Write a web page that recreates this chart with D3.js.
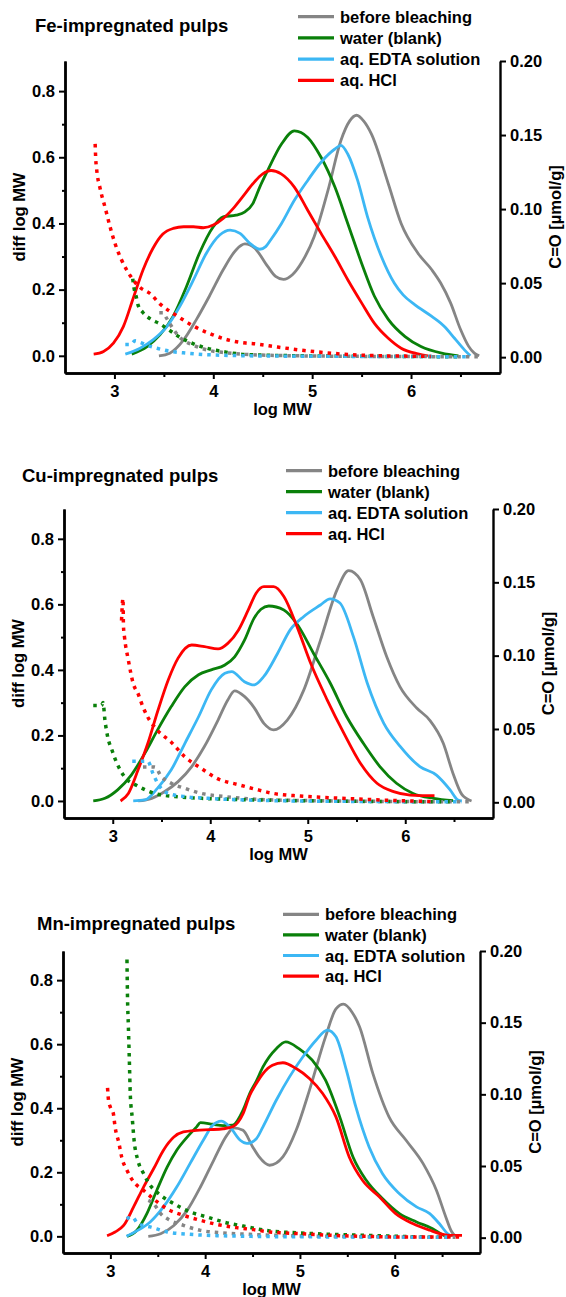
<!DOCTYPE html>
<html>
<head>
<meta charset="utf-8">
<script src="https://cdn.jsdelivr.net/npm/d3@7"></script>
<style>
  body { margin: 0; background: #fff; }
  svg text { font-family: "Liberation Sans", Arial, sans-serif; font-weight: bold; fill: #000; }
</style>
</head>
<body>
<script>
/* GPC of impregnated pulps: diff log MW (solid, left) and C=O (dotted, right) */

const seriesNames = ['before bleaching', 'water (blank)', 'aq. EDTA solution', 'aq. HCl'];
const panelTitles = ['Fe-impregnated pulps', 'Cu-impregnated pulps', 'Mn-impregnated pulps'];
const xTicks = [3, 4, 5, 6];
const xMinorTicks = [3.5, 4.5, 5.5, 6.5];
const leftTicks = [0, 0.2, 0.4, 0.6, 0.8];
const leftMinorTicks = [0.1, 0.3, 0.5, 0.7];
const rightTicks = [0, 0.05, 0.1, 0.15, 0.2];

// ---- Fe ----
const feBefore = [[3.45,0],[3.56,0.008],[3.70,0.048],[3.83,0.11],[3.96,0.18],[4.10,0.26],[4.23,0.32],[4.32,0.338],[4.42,0.325],[4.55,0.27],[4.63,0.24],[4.71,0.231],[4.80,0.245],[4.90,0.285],[5.02,0.36],[5.16,0.50],[5.29,0.65],[5.38,0.71],[5.45,0.727],[5.52,0.71],[5.60,0.67],[5.77,0.52],[5.90,0.40],[6.07,0.31],[6.21,0.26],[6.30,0.22],[6.40,0.16],[6.50,0.08],[6.58,0.03],[6.64,0.008],[6.69,0]];
const feWater = [[3.175,0.005],[3.33,0.028],[3.46,0.063],[3.595,0.12],[3.73,0.21],[3.86,0.31],[4.0,0.39],[4.10,0.42],[4.23,0.425],[4.32,0.435],[4.40,0.46],[4.47,0.51],[4.55,0.56],[4.69,0.64],[4.82,0.68],[4.955,0.66],[5.09,0.60],[5.23,0.51],[5.36,0.40],[5.50,0.28],[5.63,0.18],[5.77,0.11],[5.94,0.058],[6.10,0.028],[6.31,0.008],[6.48,0]];
const feEdta = [[3.11,0.005],[3.26,0.023],[3.39,0.048],[3.53,0.088],[3.66,0.149],[3.80,0.23],[3.93,0.31],[4.065,0.365],[4.17,0.38],[4.27,0.37],[4.37,0.34],[4.47,0.322],[4.53,0.33],[4.58,0.35],[4.69,0.40],[4.82,0.47],[4.955,0.53],[5.09,0.585],[5.23,0.625],[5.29,0.636],[5.36,0.61],[5.46,0.53],[5.56,0.42],[5.70,0.30],[5.83,0.22],[5.92,0.184],[6.04,0.154],[6.21,0.119],[6.34,0.088],[6.44,0.053],[6.54,0.018],[6.60,0]];
const feHcl = [[2.79,0.005],[2.89,0.013],[2.99,0.038],[3.09,0.088],[3.19,0.174],[3.29,0.26],[3.39,0.325],[3.49,0.368],[3.595,0.385],[3.70,0.39],[3.80,0.39],[3.90,0.387],[4.0,0.395],[4.10,0.415],[4.20,0.445],[4.30,0.482],[4.40,0.52],[4.50,0.55],[4.585,0.56],[4.686,0.55],[4.82,0.51],[4.955,0.44],[5.09,0.37],[5.23,0.30],[5.36,0.23],[5.50,0.16],[5.63,0.098],[5.77,0.053],[5.90,0.023],[6.07,0.006],[6.17,0]];
const feBeforeCO = [[3.454,0.030],[3.49,0.030],[3.53,0.026],[3.595,0.019],[3.66,0.0135],[3.80,0.008],[3.96,0.0045],[4.13,0.003],[4.40,0.0016],[5.0,0.0008],[6.0,0.0004],[6.69,0.0003]];
const feWaterCO = [[3.185,0.053],[3.20,0.046],[3.22,0.041],[3.24,0.035],[3.29,0.030],[3.36,0.026],[3.46,0.0225],[3.56,0.018],[3.66,0.0135],[3.80,0.009],[3.96,0.0056],[4.13,0.0034],[4.33,0.0018],[4.8,0.001],[5.5,0.0006],[6.48,0.0003]];
const feEdtaCO = [[3.11,0.0085],[3.16,0.0085],[3.21,0.011],[3.26,0.010],[3.33,0.008],[3.43,0.006],[3.56,0.004],[3.73,0.0027],[3.96,0.0016],[4.5,0.0008],[5.5,0.0005],[6.6,0.0003]];
const feHclCO = [[2.805,0.144],[2.81,0.135],[2.82,0.127],[2.855,0.114],[2.906,0.101],[2.956,0.088],[3.007,0.0766],[3.07,0.066],[3.16,0.055],[3.26,0.047],[3.36,0.043],[3.46,0.036],[3.63,0.028],[3.80,0.021],[3.96,0.016],[4.13,0.012],[4.33,0.0095],[4.42,0.009],[4.65,0.0068],[4.92,0.0045],[5.26,0.0023],[5.60,0.0011],[5.94,0.0007],[6.2,0.0005]];

// ---- Cu ----
const cuBefore = [[3.26,0],[3.40,0.008],[3.53,0.028],[3.67,0.059],[3.81,0.105],[3.94,0.166],[4.08,0.247],[4.18,0.308],[4.25,0.336],[4.35,0.319],[4.45,0.285],[4.55,0.237],[4.65,0.217],[4.79,0.247],[4.96,0.339],[5.13,0.49],[5.30,0.644],[5.42,0.703],[5.54,0.675],[5.67,0.563],[5.81,0.44],[5.945,0.349],[6.12,0.283],[6.25,0.247],[6.39,0.176],[6.49,0.084],[6.58,0.02],[6.68,0]];
const cuWater = [[2.80,0],[2.92,0.008],[3.05,0.034],[3.19,0.079],[3.33,0.146],[3.46,0.217],[3.60,0.288],[3.74,0.349],[3.88,0.385],[4.01,0.40],[4.15,0.415],[4.25,0.44],[4.35,0.49],[4.45,0.558],[4.52,0.585],[4.60,0.595],[4.755,0.583],[4.89,0.54],[5.06,0.45],[5.23,0.36],[5.40,0.257],[5.57,0.176],[5.74,0.105],[5.91,0.054],[6.08,0.023],[6.29,0.008],[6.49,0.001]];
const cuEdta = [[3.21,0],[3.33,0.003],[3.46,0.039],[3.60,0.095],[3.74,0.176],[3.88,0.257],[4.01,0.339],[4.15,0.39],[4.22,0.395],[4.35,0.364],[4.45,0.354],[4.55,0.38],[4.69,0.45],[4.82,0.522],[4.96,0.563],[5.13,0.598],[5.23,0.617],[5.33,0.604],[5.47,0.50],[5.61,0.36],[5.78,0.237],[5.95,0.166],[6.15,0.105],[6.32,0.079],[6.46,0.034],[6.54,0.003],[6.58,0]];
const cuHcl = [[3.08,0],[3.16,0.023],[3.26,0.095],[3.36,0.176],[3.46,0.273],[3.57,0.37],[3.67,0.436],[3.81,0.476],[3.94,0.471],[4.08,0.464],[4.18,0.481],[4.29,0.522],[4.39,0.583],[4.47,0.634],[4.55,0.654],[4.65,0.654],[4.755,0.624],[4.89,0.532],[5.03,0.42],[5.20,0.308],[5.37,0.207],[5.54,0.115],[5.71,0.054],[5.88,0.0285],[6.05,0.018],[6.25,0.016],[6.30,0.016]];
const cuBeforeCO = [[3.31,0.024],[3.43,0.024],[3.50,0.0175],[3.60,0.013],[3.74,0.0095],[3.91,0.006],[4.15,0.0039],[4.49,0.002],[5.2,0.001],[6.68,0.0003]];
const cuWaterCO = [[2.80,0.066],[2.885,0.066],[2.90,0.068],[2.92,0.056],[2.95,0.044],[2.99,0.036],[3.04,0.027],[3.12,0.0175],[3.26,0.011],[3.43,0.006],[3.64,0.0039],[3.98,0.0025],[4.49,0.0016],[5.3,0.0008],[6.5,0.0003]];
const cuEdtaCO = [[3.20,0.028],[3.29,0.028],[3.36,0.028],[3.41,0.020],[3.46,0.013],[3.57,0.006],[3.74,0.0039],[3.98,0.0027],[4.6,0.0012],[5.5,0.0006],[6.58,0.0003]];
const cuHclCO = [[3.09,0.124],[3.105,0.139],[3.11,0.12],[3.12,0.113],[3.16,0.097],[3.21,0.081],[3.26,0.074],[3.31,0.065],[3.36,0.058],[3.46,0.049],[3.60,0.041],[3.74,0.031],[3.91,0.023],[4.08,0.016],[4.29,0.012],[4.46,0.009],[4.65,0.006],[4.92,0.0043],[5.27,0.003],[5.6,0.002],[5.95,0.0011],[6.29,0.0005]];

// ---- Mn ----
const mnBefore = [[3.40,0],[3.53,0.008],[3.67,0.034],[3.81,0.081],[3.95,0.154],[4.09,0.2375],[4.23,0.316],[4.30,0.339],[4.40,0.331],[4.50,0.28],[4.57,0.248],[4.68,0.222],[4.82,0.248],[4.96,0.331],[5.10,0.456],[5.27,0.623],[5.38,0.71],[5.46,0.725],[5.55,0.70],[5.63,0.654],[5.77,0.508],[5.94,0.373],[6.12,0.30],[6.30,0.227],[6.44,0.144],[6.54,0.06],[6.60,0.015],[6.64,0]];
const mnWater = [[3.175,0],[3.28,0.019],[3.385,0.071],[3.49,0.144],[3.60,0.217],[3.70,0.269],[3.81,0.31],[3.91,0.342],[3.95,0.355],[4.08,0.35],[4.19,0.346],[4.29,0.347],[4.40,0.394],[4.47,0.446],[4.54,0.485],[4.61,0.529],[4.75,0.586],[4.85,0.607],[4.99,0.586],[5.13,0.55],[5.27,0.4875],[5.42,0.373],[5.56,0.248],[5.70,0.175],[5.87,0.118],[6.05,0.071],[6.23,0.045],[6.40,0.024],[6.52,0.003],[6.55,0]];
const mnEdta = [[3.17,0],[3.28,0.017],[3.42,0.045],[3.56,0.092],[3.70,0.154],[3.84,0.227],[3.98,0.30],[4.08,0.347],[4.17,0.36],[4.26,0.342],[4.37,0.30],[4.44,0.29],[4.54,0.305],[4.61,0.342],[4.75,0.425],[4.89,0.498],[5.03,0.56],[5.17,0.6125],[5.29,0.644],[5.38,0.623],[5.49,0.519],[5.59,0.404],[5.73,0.279],[5.87,0.196],[6.05,0.133],[6.23,0.092],[6.37,0.071],[6.47,0.04],[6.56,0.008],[6.60,0]];
const mnHcl = [[2.965,0.002],[3.05,0.0135],[3.14,0.034],[3.245,0.092],[3.35,0.154],[3.456,0.211],[3.56,0.269],[3.67,0.31],[3.77,0.326],[3.91,0.331],[4.05,0.333],[4.19,0.336],[4.29,0.342],[4.40,0.383],[4.47,0.44],[4.54,0.477],[4.61,0.508],[4.71,0.534],[4.82,0.542],[4.96,0.524],[5.10,0.493],[5.24,0.446],[5.38,0.373],[5.52,0.248],[5.66,0.175],[5.84,0.123],[6.01,0.071],[6.19,0.04],[6.37,0.019],[6.51,0.006],[6.58,0.003],[6.71,0.003]];
const mnBeforeCO = [[3.40,0.026],[3.456,0.0237],[3.53,0.0168],[3.63,0.0121],[3.77,0.0086],[3.95,0.0051],[4.19,0.0033],[4.47,0.0023],[5.2,0.001],[6.64,0.0003]];
const mnWaterCO = [[3.175,0.194],[3.18,0.170],[3.19,0.147],[3.20,0.124],[3.21,0.10],[3.23,0.084],[3.25,0.068],[3.29,0.054],[3.35,0.0447],[3.42,0.0366],[3.53,0.0296],[3.67,0.0237],[3.84,0.018],[4.02,0.0144],[4.19,0.011],[4.40,0.0081],[4.68,0.0047],[4.99,0.0033],[5.35,0.0023],[5.70,0.0016],[6.05,0.0009],[6.5,0.0002]];
const mnEdtaCO = [[3.17,0.0133],[3.23,0.0144],[3.29,0.0098],[3.42,0.0075],[3.60,0.004],[3.84,0.0023],[4.12,0.0014],[5.0,0.0006],[6.6,0.0003]];
const mnHclCO = [[2.97,0.1045],[2.98,0.096],[3.0,0.091],[3.03,0.087],[3.05,0.077],[3.09,0.066],[3.12,0.056],[3.175,0.047],[3.245,0.039],[3.35,0.033],[3.456,0.027],[3.60,0.020],[3.77,0.0156],[3.95,0.0121],[4.12,0.0093],[4.33,0.007],[4.51,0.0056],[4.68,0.004],[4.99,0.0028],[5.35,0.0016],[5.70,0.0009],[6.05,0.0005],[6.71,0.0005]];

const solidSets = [
  [feBefore, feWater, feEdta, feHcl],
  [cuBefore, cuWater, cuEdta, cuHcl],
  [mnBefore, mnWater, mnEdta, mnHcl]
];
const dottedSets = [
  [feBeforeCO, feWaterCO, feEdtaCO, feHclCO],
  [cuBeforeCO, cuWaterCO, cuEdtaCO, cuHclCO],
  [mnBeforeCO, mnWaterCO, mnEdtaCO, mnHclCO]
];

const colors = ['#858585', '#0a800a', '#3cb7f4', '#ff0000'];

// frame of each panel on the page
const layout = [
  { left: 65, right: 500, top: 61, bottom: 373, titleX: 35, titleY: 32, legX: 298, legY: 16.7, legStep: 21.2 },
  { left: 64, right: 493, top: 509, bottom: 818, titleX: 22, titleY: 482, legX: 286, legY: 470.7, legStep: 21 },
  { left: 63, right: 480, top: 951, bottom: 1253, titleX: 37, titleY: 930, legX: 283, legY: 914.3, legStep: 20.6 }
];

const svg = d3.select('body').append('svg')
  .attr('width', 566)
  .attr('height', 1297);

function styleAxis(g) {
  g.attr('font-size', 16.5);
  g.select('.domain').attr('stroke-width', 2.4);
  g.selectAll('.tick line').attr('stroke-width', 2);
}

function drawPanel(i) {
  const L = layout[i];
  const g = svg.append('g');

  const x = d3.scaleLinear().domain([2.5, 6.9]).range([L.left, L.right]);
  const yL = d3.scaleLinear().domain([-0.052, 0.891]).range([L.bottom, L.top]);
  const yR = d3.scaleLinear().domain([-0.0107, 0.2]).range([L.bottom, L.top]);

  const clipId = 'clip' + i;
  g.append('clipPath').attr('id', clipId)
    .append('rect')
    .attr('x', L.left).attr('y', L.top)
    .attr('width', L.right - L.left).attr('height', L.bottom - L.top);

  const plot = g.append('g').attr('clip-path', `url(#${clipId})`);

  const solidLine = d3.line().x(d => x(d[0])).y(d => yL(d[1])).curve(d3.curveMonotoneX);
  const dotLine = d3.line().x(d => x(d[0])).y(d => yR(d[1])).curve(d3.curveMonotoneX);

  solidSets[i].forEach((data, k) => {
    plot.append('path')
      .datum(data)
      .attr('d', solidLine)
      .attr('fill', 'none')
      .attr('stroke', colors[k])
      .attr('stroke-width', 2.8)
      .attr('stroke-linejoin', 'round');
  });

  dottedSets[i].forEach((data, k) => {
    plot.append('path')
      .datum(data)
      .attr('d', dotLine)
      .attr('fill', 'none')
      .attr('stroke', colors[k])
      .attr('stroke-width', 3.5)
      .attr('stroke-dasharray', '3.5,5');
  });

  // axes
  g.append('g')
    .attr('transform', `translate(0,${L.bottom})`)
    .call(d3.axisBottom(x).tickValues(xMinorTicks).tickSize(4).tickSizeOuter(0).tickFormat(''))
    .call(styleAxis);
  g.append('g')
    .attr('transform', `translate(0,${L.bottom})`)
    .call(d3.axisBottom(x).tickValues(xTicks).tickSize(6).tickSizeOuter(0).tickPadding(6).tickFormat(d3.format('d')))
    .call(styleAxis);

  g.append('g')
    .attr('transform', `translate(${L.left},0)`)
    .call(d3.axisLeft(yL).tickValues(leftMinorTicks).tickSize(3).tickSizeOuter(0).tickFormat(''))
    .call(styleAxis);
  g.append('g')
    .attr('transform', `translate(${L.left},0)`)
    .call(d3.axisLeft(yL).tickValues(leftTicks).tickSize(6).tickSizeOuter(0).tickPadding(4).tickFormat(d3.format('.1f')))
    .call(styleAxis);

  g.append('g')
    .attr('transform', `translate(${L.right},0)`)
    .call(d3.axisRight(yR).tickValues(rightTicks).tickSize(6).tickSizeOuter(0).tickPadding(4).tickFormat(d3.format('.2f')))
    .call(styleAxis);

  // axis titles
  const midY = (L.top + L.bottom) / 2;
  g.append('text')
    .attr('transform', `translate(${L.left - 40},${midY}) rotate(-90)`)
    .attr('text-anchor', 'middle')
    .attr('font-size', 16.5)
    .text('diff log MW');
  g.append('text')
    .attr('transform', `translate(${L.right + 61},${midY}) rotate(-90)`)
    .attr('text-anchor', 'middle')
    .attr('font-size', 16.5)
    .text('C=O [µmol/g]');
  g.append('text')
    .attr('x', (L.left + L.right) / 2)
    .attr('y', L.bottom + 42)
    .attr('text-anchor', 'middle')
    .attr('font-size', 16.5)
    .text('log MW');

  // panel title
  g.append('text')
    .attr('x', L.titleX)
    .attr('y', L.titleY)
    .attr('font-size', 18.5)
    .text(panelTitles[i]);

  // legend
  const leg = g.append('g');
  seriesNames.forEach((name, k) => {
    const yy = L.legY + k * L.legStep;
    leg.append('line')
      .attr('x1', L.legX).attr('x2', L.legX + 36)
      .attr('y1', yy).attr('y2', yy)
      .attr('stroke', colors[k])
      .attr('stroke-width', 3.2);
    leg.append('text')
      .attr('x', L.legX + 42)
      .attr('y', yy + 6)
      .attr('font-size', 16.5)
      .text(name);
  });
}

layout.forEach((_, i) => drawPanel(i));
</script>
</body>
</html>
